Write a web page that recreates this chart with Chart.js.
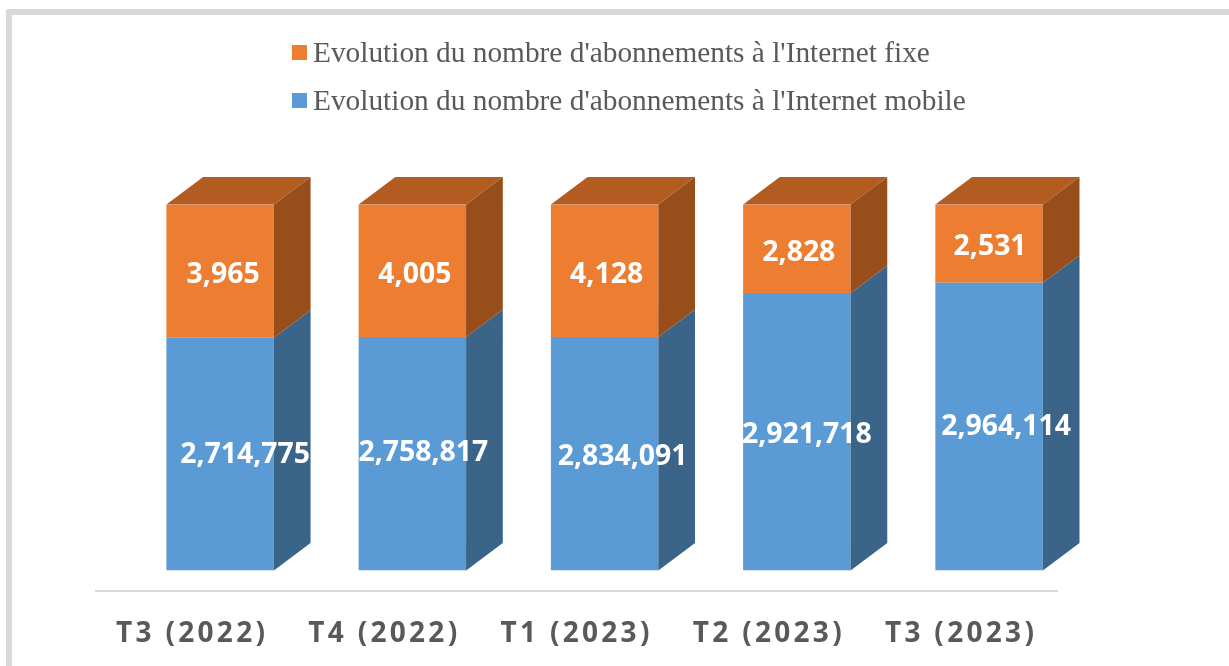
<!DOCTYPE html>
<html>
<head>
<meta charset="utf-8">
<title>Abonnements Internet</title>
<script src="https://cdn.jsdelivr.net/npm/chart.js@4/dist/chart.umd.min.js"></script>
<style>
    html, body { margin: 0; padding: 0; background: #fff; overflow: hidden; }
    #frame { position: absolute; left: 6px; top: 9px; right: 0; bottom: 0; border-left: 6px solid #d9d9d9; border-top: 6px solid #d9d9d9; border-top-left-radius: 3px; }
    #chart { position: absolute; left: 0; top: 0; }
</style>
</head>
<body>
<div id="frame"></div>
<canvas id="chart" width="1229" height="666"></canvas>
<script>
const categories = ['T3 (2022)', 'T4 (2022)', 'T1 (2023)', 'T2 (2023)', 'T3 (2023)'];

// values printed on the bars
const mobileValues = [2714775, 2758817, 2834091, 2921718, 2964114];
const fixedValues = [3965, 4005, 4128, 2828, 2531];

// the picture does not draw the bars to the printed values,
// so these are the shares of each column as read from its height
const mobileHeights = [63.6, 63.8, 63.8, 75.8, 78.6];
const fixedHeights = [36.4, 36.2, 36.2, 24.2, 21.4];

const mobileName = "Evolution du nombre d'abonnements à l'Internet mobile";
const fixedName = "Evolution du nombre d'abonnements à l'Internet fixe";

// label nudges from the middle of each bar [x, y]
const mobileNudge = [[25, 1], [11, -1], [18, 3], [10, 3], [17, 0]];
const fixedNudge = [[3, 4], [2.5, 4], [2, 4], [2, 4], [1, 3]];

const shift = { x: 28, y: -20.5 };
const depth = { x: 36.7, y: 27.4 };
const textGrey = '#595959';

const colors = {
    mobile: { front: '#5b9bd5', side: '#3a6488', top: '#44749f' },
    fixed: { front: '#ed7d31', side: '#984e1b', top: '#b35c22' }
};

function poly(ctx, color, pts) {
    ctx.fillStyle = color;
    ctx.beginPath();
    pts.forEach((p, i) => i ? ctx.lineTo(p[0], p[1]) : ctx.moveTo(p[0], p[1]));
    ctx.closePath();
    ctx.fill();
}

// fake 3d boxes around the library's bars
const boxes = {
    id: 'boxes',
    beforeDraw(chart) {
        chart.ctx.letterSpacing = '3.3px';
    },
    beforeDatasetsDraw(chart) {
        const ctx = chart.ctx;
        ctx.letterSpacing = '0px';
        ctx.save();
        ctx.translate(shift.x, shift.y);
    },
    afterDatasetsDraw(chart) {
        const ctx = chart.ctx;
        const palette = [colors.mobile, colors.fixed];

        chart.data.datasets.forEach((ds, d) => {
            chart.getDatasetMeta(d).data.forEach((bar) => {
                const { x, y, base, width } = bar.getProps(['x', 'y', 'base', 'width'], true);
                const r = x + width / 2;
                const l = x - width / 2;
                poly(ctx, palette[d].side, [[r, base], [r + depth.x, base - depth.y], [r + depth.x, y - depth.y], [r, y]]);
                if (d === chart.data.datasets.length - 1) {
                    poly(ctx, palette[d].top, [[l, y], [l + depth.x, y - depth.y], [r + depth.x, y - depth.y], [r, y]]);
                }
            });
        });

        // value labels
        ctx.font = 'bold 28.4px "Open Sans"';
        ctx.fillStyle = '#fff';
        ctx.textAlign = 'center';
        ctx.textBaseline = 'middle';
        const printed = [mobileValues, fixedValues];
        const nudges = [mobileNudge, fixedNudge];
        chart.data.datasets.forEach((ds, d) => {
            chart.getDatasetMeta(d).data.forEach((bar, i) => {
                const { x, y, base } = bar.getProps(['x', 'y', 'base'], true);
                const text = printed[d][i].toLocaleString('en-US');
                ctx.fillText(text, x + nudges[d][i][0], (y + base) / 2 + nudges[d][i][1]);
            });
        });
        ctx.restore();

        // legend, fixed on top as in the picture
        ctx.save();
        ctx.font = '29.35px "Liberation Serif"';
        ctx.textAlign = 'left';
        ctx.textBaseline = 'middle';
        [fixedName, mobileName].forEach((name, i) => {
            const y = 52.5 + i * 48;
            ctx.fillStyle = i ? colors.mobile.front : colors.fixed.front;
            ctx.fillRect(292, y - 7.5, 15, 15);
            ctx.fillStyle = textGrey;
            ctx.fillText(name, 313, y + 2);
        });
        ctx.restore();
    }
};

new Chart(document.querySelector('#chart'), {
    type: 'bar',
    data: {
        labels: categories,
        datasets: [
            { label: mobileName, data: mobileHeights, backgroundColor: colors.mobile.front, borderWidth: 0 },
            { label: fixedName, data: fixedHeights, backgroundColor: colors.fixed.front, borderWidth: 0 }
        ]
    },
    options: {
        responsive: false,
        animation: false,
        barPercentage: 0.559,
        categoryPercentage: 1,
        layout: { padding: { left: 96, right: 171.8, top: 225, bottom: 0 } },
        plugins: { legend: { display: false }, tooltip: { enabled: false } },
        scales: {
            x: {
                stacked: true,
                afterFit(scale) { scale.height = 75; },
                grid: { display: false },
                border: { display: true, color: '#d9d9d9', width: 2 },
                ticks: {
                    color: textGrey,
                    font: { family: '"Open Sans"', size: 28, weight: 'bold' },
                    padding: 18,
                    maxRotation: 0,
                    autoSkip: false
                }
            },
            y: { stacked: true, display: false, min: 0, max: 100 }
        }
    },
    plugins: [boxes]
});
</script>
</body>
</html>
